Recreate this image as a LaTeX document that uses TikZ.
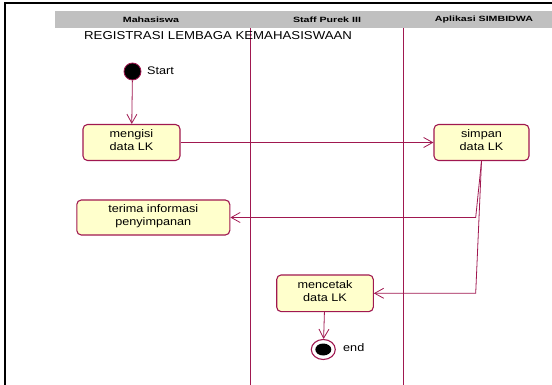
\documentclass[tikz,border=0pt]{standalone}
\usepackage{fontspec}
\setmainfont{Liberation Sans}[FakeStretch=1.15]
\newfontfamily\hdrfont{Liberation Sans}[FakeStretch=1.4]
\usetikzlibrary{arrows.meta,shapes.geometric}
\definecolor{flow}{HTML}{A01850}
\definecolor{actfill}{HTML}{FFFFCC}
\definecolor{hdrgray}{HTML}{C0C0C0}
% extra depth under the last line, so the label sits a little high in its box
\newcommand{\lowpad}{\rule[-4pt]{0pt}{0pt}}
\begin{document}
\begin{tikzpicture}[x=1pt,y=-1pt,
  txt/.style={font=\fontsize{11}{13}\selectfont},
  activity/.style={draw=flow, fill=actfill, line width=1.1pt, rounded corners=4.5pt,
    align=center, inner sep=0pt, txt},
  hdr/.style={font=\hdrfont\bfseries\fontsize{7.6}{9}\selectfont, inner sep=0pt},
  flowline/.style={draw=flow, line width=0.8pt, -{Straight Barb[length=9pt,width=10pt]}},
  lane/.style={draw=flow, line width=0.8pt}]
\useasboundingbox (0,0) rectangle (552,385);
\fill[white] (0,0) rectangle (552,385);

% outer frame and swimlane header
\draw[line width=1.8pt] (565,3) -- (5,3) -- (5,395);
\fill[hdrgray] (55,11) rectangle (565,28);
\node[hdr] (h1) at (151,19.5) {Mahasiswa};
\node[hdr] (h2) at (327,19.5) {Staff Purek III};
\node[hdr] (h3) at (484,19.5) {Aplikasi SIMBIDWA};

% lane separators
\draw[lane] (250,28) -- (250,390);
\draw[lane] (403,28) -- (403,390);

\node[font=\fontsize{11.5}{13}\selectfont, anchor=west, inner sep=0pt] (title) at (84,35.5) {REGISTRASI LEMBAGA KEMAHASISWAAN};

% start state
\node[circle, fill=black, draw=flow, line width=0.8pt, minimum size=17pt, inner sep=0pt] (start) at (132.5,71.5) {};
\node[txt, anchor=west, inner sep=0pt] (startlbl) at (147,71) {Start};

% activities
\node[activity, minimum width=97pt, minimum height=36pt] (isi) at (131.5,142.5) {mengisi\\data LK\lowpad};
\node[activity, minimum width=95pt, minimum height=36pt] (simpan) at (481.5,142.5) {simpan\\data LK\lowpad};
\node[activity, minimum width=153pt, minimum height=35pt] (terima) at (153.3,217.5) {terima informasi\\penyimpanan\lowpad};
\node[activity, minimum width=96.6pt, minimum height=36.7pt] (cetak) at (325,293.3) {mencetak\\data LK\lowpad};

% end state
\node[ellipse, draw=flow, line width=1.1pt, fill=white, minimum width=24pt, minimum height=20pt, inner sep=0pt] (end) at (323.3,349.5) {};
\fill[black] (end.center) ellipse [x radius=8pt, y radius=6pt];
\node[txt, anchor=west, inner sep=0pt] (endlbl) at (343,348) {end};

% transitions
\coordinate (k1) at (475.7,217.5);
\coordinate (k2) at (475.7,293.3);
\draw[flowline] (start) -- (isi);
\draw[flowline] (isi) -- (simpan);
\draw[flowline] (simpan.south) -- (k1) -- (terima);
\draw[flowline] (simpan.south) -- (k2) -- (cetak);
\draw[flowline] (cetak) -- (end);
\end{tikzpicture}
\end{document}
